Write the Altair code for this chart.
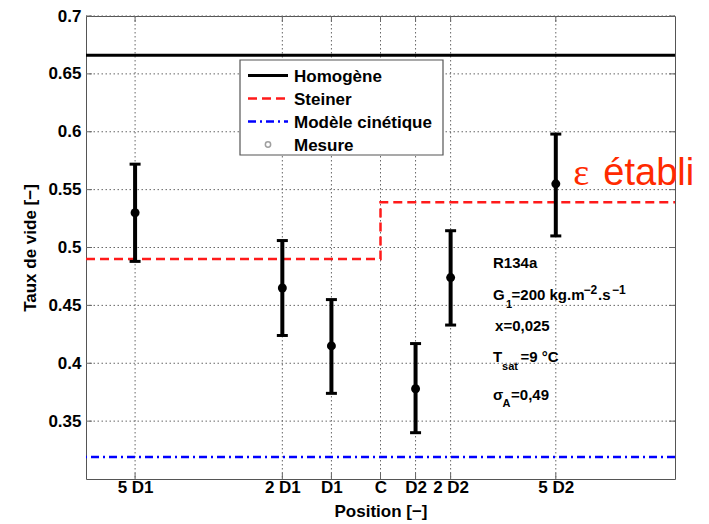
import altair as alt
import pandas as pd

# ---------------- data ----------------
tick_positions = [-70, -28, -14, 0, 10, 20, 50]          # mm (D1 = 14 mm, D2 = 10 mm)
tick_labels = ["5 D1", "2 D1", "D1", "C", "D2", "2 D2", "5 D2"]
y_ticks = [0.35, 0.4, 0.45, 0.5, 0.55, 0.6, 0.65, 0.7]

meas_x = [-70, -28, -14, 10, 20, 50]
meas_mean = [0.530, 0.465, 0.415, 0.378, 0.474, 0.555]
meas_low = [0.488, 0.424, 0.374, 0.340, 0.433, 0.510]
meas_high = [0.572, 0.506, 0.455, 0.417, 0.5145, 0.598]

homogene_value = 0.666
cinetique_value = 0.319
steiner_x = [-84, 0, 0, 84]
steiner_y = [0.490, 0.490, 0.539, 0.539]

x_domain = [-84, 84]
y_domain = [0.3, 0.7]

W, H = 589, 463
FONT = "Liberation Sans"

meas = pd.DataFrame({"x": meas_x, "m": meas_mean, "lo": meas_low, "hi": meas_high})
steiner = pd.DataFrame({"x": steiner_x, "y": steiner_y, "o": list(range(len(steiner_x)))})
xt = pd.DataFrame({"x": tick_positions})
yt = pd.DataFrame({"y": y_ticks})

label_map = "{" + ",".join(f"'{v}':'{l}'" for v, l in zip(tick_positions, tick_labels)) + "}"

xs = alt.Scale(domain=x_domain, nice=False, zero=False)
ys = alt.Scale(domain=y_domain, nice=False, zero=False)

X = alt.X("x:Q", scale=xs, axis=alt.Axis(values=tick_positions, labelExpr=label_map + "[datum.value]",
                                          title="Position [−]", labelPadding=0, titlePadding=8,
                                          labelFlush=False, labelOverlap=False, grid=False))
Y_axis = alt.Axis(values=y_ticks, format=".2~f", title="Taux de vide [−]", labelPadding=5,
                  titlePadding=8, grid=False)

GRID = dict(color="#666", strokeWidth=1, strokeDash=[1.5, 2.5])
vgrid = alt.Chart(xt).mark_rule(**GRID).encode(x=X)
hgrid = alt.Chart(yt).mark_rule(**GRID).encode(y=alt.Y("y:Q", scale=ys, axis=Y_axis))

# inward ticks on the box
bot_ticks = alt.Chart(xt).mark_rule(strokeWidth=1, color="#666").encode(
    x=alt.X("x:Q", scale=xs), y=alt.value(H - 6), y2=alt.value(H))
top_ticks = alt.Chart(xt).mark_rule(strokeWidth=1, color="#666").encode(
    x=alt.X("x:Q", scale=xs), y=alt.value(0), y2=alt.value(6))
left_ticks = alt.Chart(yt).mark_rule(strokeWidth=1, color="#666").encode(
    y=alt.Y("y:Q", scale=ys), x=alt.value(0), x2=alt.value(6))
right_ticks = alt.Chart(yt).mark_rule(strokeWidth=1, color="#666").encode(
    y=alt.Y("y:Q", scale=ys), x=alt.value(W - 6), x2=alt.value(W))

homog = alt.Chart(pd.DataFrame({"y": [homogene_value]})).mark_rule(
    color="black", strokeWidth=3).encode(y=alt.Y("y:Q", scale=ys))
cinet = alt.Chart(pd.DataFrame({"y": [cinetique_value]})).mark_rule(
    color="#0000ff", strokeWidth=2.5, strokeDash=[8, 4, 2, 4]).encode(y=alt.Y("y:Q", scale=ys))
stein = alt.Chart(steiner).mark_line(color="#ff1a1a", strokeWidth=2.5, strokeDash=[9, 5]).encode(
    x=alt.X("x:Q", scale=xs), y=alt.Y("y:Q", scale=ys), order="o:Q")

err = alt.Chart(meas).mark_rule(color="black", strokeWidth=4).encode(
    x=alt.X("x:Q", scale=xs), y=alt.Y("lo:Q", scale=ys), y2="hi:Q")
cap_hi = alt.Chart(meas).mark_tick(color="black", orient="horizontal", size=11, thickness=3, opacity=1).encode(
    x=alt.X("x:Q", scale=xs), y=alt.Y("hi:Q", scale=ys))
cap_lo = alt.Chart(meas).mark_tick(color="black", orient="horizontal", size=11, thickness=3, opacity=1).encode(
    x=alt.X("x:Q", scale=xs), y=alt.Y("lo:Q", scale=ys))
pts = alt.Chart(meas).mark_point(color="black", filled=True, size=80, opacity=1, shape="circle").encode(
    x=alt.X("x:Q", scale=xs), y=alt.Y("m:Q", scale=ys))

# ---------------- legend (manual) ----------------
one = pd.DataFrame({"a": [0]})
legend_layers = [
    alt.Chart(one).mark_rect(fill="white", stroke="#555", strokeWidth=1.2).encode(
        x=alt.value(154), x2=alt.value(357), y=alt.value(44), y2=alt.value(139))
]
legend_items = [
    ("Homogène", dict(color="black", strokeWidth=3)),
    ("Steiner", dict(color="#ff1a1a", strokeWidth=2.5, strokeDash=[9, 5])),
    ("Modèle cinétique", dict(color="#0000ff", strokeWidth=2.5, strokeDash=[8, 4, 2, 4])),
    ("Mesure", None),
]
for i, (lab, sty) in enumerate(legend_items):
    yy = 59.5 + i * 23
    if sty is not None:
        legend_layers.append(alt.Chart(one).mark_rule(**sty).encode(
            x=alt.value(162), x2=alt.value(202), y=alt.value(yy)))
    else:
        legend_layers.append(alt.Chart(one).mark_point(shape="circle", filled=False, color="#777",
                                                       strokeWidth=1.5, size=28).encode(
            x=alt.value(182), y=alt.value(yy)))
    legend_layers.append(alt.Chart(one).mark_text(
        text=lab, align="left", baseline="middle", font=FONT, fontWeight="bold", fontSize=17,
        color="black").encode(x=alt.value(208), y=alt.value(yy + 1)))

# ---------------- annotations ----------------
ann_x = 32.1
ann_rows = [0.482, 0.455, 0.428, 0.401, 0.368]
pieces = [
    # text, row, dx, dy, size
    ("R134a", 0, 0, 0, 15),
    ("G", 1, 0, 0, 15), ("1", 1, 13, 8, 11), ("=200 kg.m", 1, 18.5, 0, 15),
    ("−2", 1, 90.5, -6, 12), (".s", 1, 105, 0, 15), ("−1", 1, 119, -6, 12),
    ("x=0,025", 2, 2, 0, 15),
    ("T", 3, 0, 0, 15), ("sat", 3, 9, 8, 11), ("=9 °C", 3, 27.5, 0, 15),
    ("σ", 4, 0, 0, 15), ("A", 4, 9.5, 7, 11), ("=0,49", 4, 18, 0, 15),
]
ann_layers = []
for txt, r, dx, dy, sz in pieces:
    ann_layers.append(alt.Chart(pd.DataFrame({"x": [ann_x], "y": [ann_rows[r]]})).mark_text(
        text=txt, align="left", baseline="alphabetic", dx=dx, dy=dy, font=FONT,
        fontWeight="bold", fontSize=sz, color="black").encode(
        x=alt.X("x:Q", scale=xs), y=alt.Y("y:Q", scale=ys)))

eps_df = pd.DataFrame({"x": [55.0], "y": [0.5536]})
eps = alt.Chart(eps_df).mark_text(text="ε", align="left", baseline="alphabetic", font="Liberation Serif",
                                  fontSize=38, color="#ff2a00").encode(
    x=alt.X("x:Q", scale=xs), y=alt.Y("y:Q", scale=ys))
etabli = alt.Chart(eps_df).mark_text(text="établi", align="left", baseline="alphabetic", dx=30, font=FONT,
                                     fontSize=38, color="#ff2a00").encode(
    x=alt.X("x:Q", scale=xs), y=alt.Y("y:Q", scale=ys))

chart = alt.layer(
    vgrid, hgrid, bot_ticks, top_ticks, left_ticks, right_ticks,
    homog, cinet, stein, err, cap_hi, cap_lo, pts,
    *legend_layers, *ann_layers, eps, etabli
).properties(
    width=W, height=H,
    autosize=alt.AutoSizeParams(type="none"),
    padding={"left": 78, "top": 8, "right": 26, "bottom": 42},
    background="white",
).configure_view(
    stroke="#555", strokeWidth=1
).configure_axis(
    domain=False, ticks=False,
    labelFont=FONT, labelFontWeight="bold", labelFontSize=17, labelColor="black",
    titleFont=FONT, titleFontWeight="bold", titleFontSize=17, titleColor="black",
)

chart.save("out.html", embed_options={"renderer": "svg", "actions": False})
